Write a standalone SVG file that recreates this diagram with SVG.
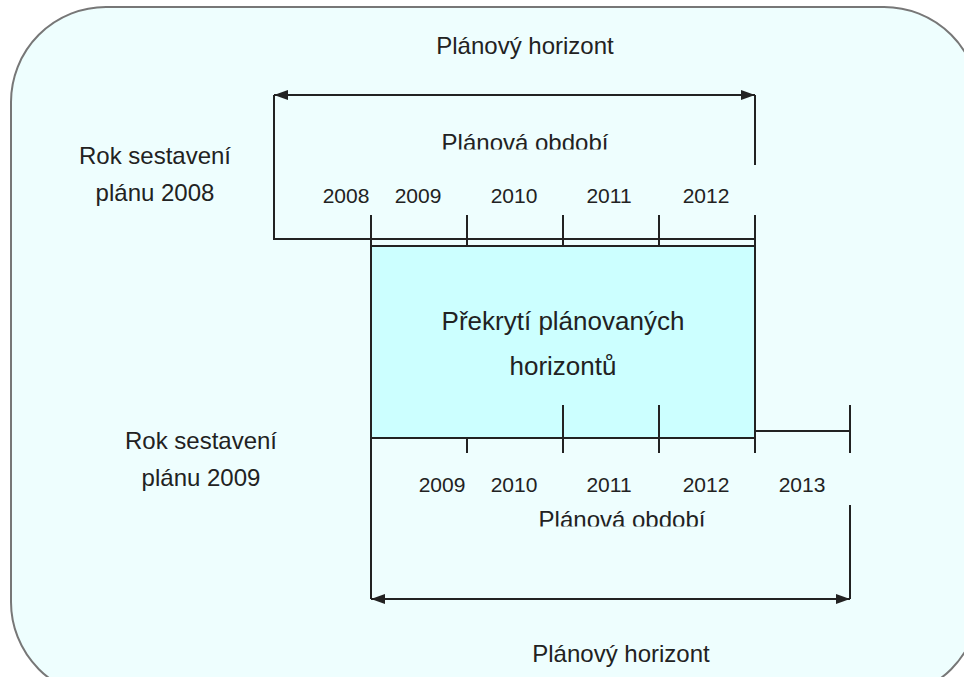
<svg xmlns="http://www.w3.org/2000/svg" width="964" height="677" viewBox="0 0 964 677">
<defs>
<marker id="ah" viewBox="0 0 14 10" refX="14" refY="5" markerWidth="14" markerHeight="10" markerUnits="userSpaceOnUse" orient="auto-start-reverse">
<path d="M0,0 L14,5 L0,10 Z" fill="#222"/>
</marker>
<clipPath id="c1"><rect x="400" y="120" width="250" height="29.5"/></clipPath>
<clipPath id="c2"><rect x="500" y="500" width="250" height="26.5"/></clipPath>
</defs>
<style>
text{font-family:"Liberation Sans",Arial,sans-serif;fill:#222;}
.t24{font-size:24px;}
.t21{font-size:21px;}
.t26{font-size:26px;}
.ln{stroke:#222;stroke-width:2;fill:none;}
</style>
<rect x="11" y="7" width="968" height="690" rx="95" ry="95" fill="#eefefe" stroke="#777" stroke-width="2"/>
<g id="overlap">
<rect x="371" y="246" width="384" height="192" fill="#ccffff" stroke="#222" stroke-width="2"/>
<text class="t26" x="563" y="330" text-anchor="middle">Překrytí plánovaných</text>
<text class="t26" x="563" y="375" text-anchor="middle">horizontů</text>
</g>
<g id="connectors">
<line class="ln" x1="274" y1="95" x2="755" y2="95" marker-start="url(#ah)" marker-end="url(#ah)"/>
<polyline class="ln" points="274,95 274,239 755,239"/>
<line class="ln" x1="755" y1="95" x2="755" y2="165"/>
<line class="ln" x1="755" y1="215" x2="755" y2="246"/>
<line class="ln" x1="371" y1="215" x2="371" y2="246"/>
<line class="ln" x1="467" y1="215" x2="467" y2="246"/>
<line class="ln" x1="563" y1="215" x2="563" y2="246"/>
<line class="ln" x1="659" y1="215" x2="659" y2="246"/>
<line class="ln" x1="563" y1="405" x2="563" y2="453"/>
<line class="ln" x1="659" y1="405" x2="659" y2="453"/>
<line class="ln" x1="467" y1="438" x2="467" y2="453"/>
<line class="ln" x1="755" y1="438" x2="755" y2="453"/>
<line class="ln" x1="755" y1="431" x2="850" y2="431"/>
<line class="ln" x1="850" y1="405" x2="850" y2="453"/>
<line class="ln" x1="850" y1="505" x2="850" y2="599"/>
<line class="ln" x1="371" y1="438" x2="371" y2="599"/>
<line class="ln" x1="371" y1="599" x2="850" y2="599" marker-start="url(#ah)" marker-end="url(#ah)"/>
</g>
<g id="top-labels">
<text class="t24" x="525" y="54" text-anchor="middle">Plánový horizont</text>
<text class="t24" x="525" y="151" text-anchor="middle" clip-path="url(#c1)">Plánová období</text>
<text class="t21" x="346" y="203" text-anchor="middle">2008</text>
<text class="t21" x="418" y="203" text-anchor="middle">2009</text>
<text class="t21" x="514" y="203" text-anchor="middle">2010</text>
<text class="t21" x="609" y="203" text-anchor="middle">2011</text>
<text class="t21" x="706" y="203" text-anchor="middle">2012</text>
</g>
<g id="plan-2008">
<text class="t24" x="155" y="164" text-anchor="middle">Rok sestavení</text>
<text class="t24" x="155" y="201" text-anchor="middle">plánu 2008</text>
</g>
<g id="plan-2009">
<text class="t24" x="201" y="449" text-anchor="middle">Rok sestavení</text>
<text class="t24" x="201" y="486" text-anchor="middle">plánu 2009</text>
</g>
<g id="bottom-labels">
<text class="t21" x="442" y="492" text-anchor="middle">2009</text>
<text class="t21" x="514" y="492" text-anchor="middle">2010</text>
<text class="t21" x="609" y="492" text-anchor="middle">2011</text>
<text class="t21" x="706" y="492" text-anchor="middle">2012</text>
<text class="t21" x="802" y="492" text-anchor="middle">2013</text>
<text class="t24" x="622" y="528" text-anchor="middle" clip-path="url(#c2)">Plánová období</text>
<text class="t24" x="621" y="662" text-anchor="middle">Plánový horizont</text>
</g>
</svg>
